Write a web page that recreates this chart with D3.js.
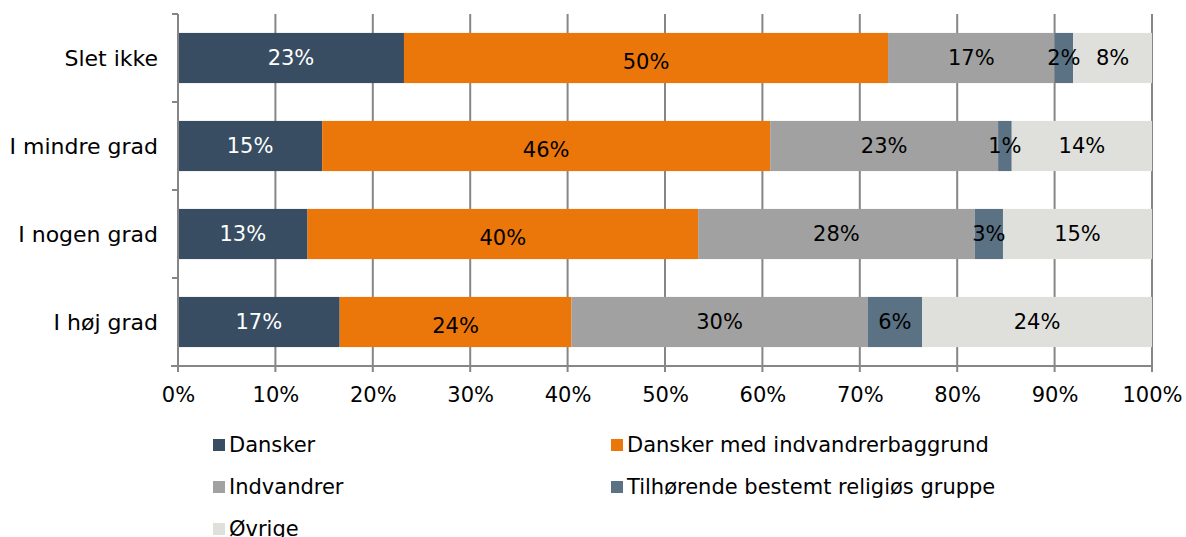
<!DOCTYPE html>
<html>
<head>
<meta charset="utf-8">
<script src="https://cdn.jsdelivr.net/npm/d3@7"></script>
<style>
  body { margin: 0; background: #fff; }
  .axis text { font-family: "DejaVu Sans", Verdana, sans-serif; font-size: 21px; fill: #000; }
  .legend text { font-family: "DejaVu Sans", Verdana, sans-serif; font-size: 21px; fill: #000; }
</style>
</head>
<body>
<div id="chart"></div>
<script>
// categories, top to bottom
var categories = ["Slet ikke", "I mindre grad", "I nogen grad", "I høj grad"];
var seriesNames = ["Dansker", "Dansker med indvandrerbaggrund", "Indvandrer",
                   "Tilhørende bestemt religiøs gruppe", "Øvrige"];
// shares in percent, one array per series (same order as categories)
var dansker    = [23.2, 14.8, 13.3, 16.6];
var danskerMed = [49.7, 46.0, 40.1, 23.8];
var indvandrer = [17.1, 23.4, 28.4, 30.4];
var religioes  = [1.9, 1.4, 2.9, 5.6];
var oevrige    = [8.1, 14.4, 15.3, 23.6];
var xTicks = [0, 10, 20, 30, 40, 50, 60, 70, 80, 90, 100];

var colors = ["#384d62", "#eb760a", "#a1a1a1", "#5b7285", "#dfdfdb"];
var labelColors = ["#fff", "#000", "#000", "#000", "#000"];

var w = 1186, h = 537;
var margin = {top: 14, right: 34, bottom: 171, left: 178};
var width = w - margin.left - margin.right;
var height = h - margin.top - margin.bottom;

var xScale = d3.scaleLinear().domain([0, 100]).range([0, width]);
var yScale = d3.scaleBand().domain(categories).range([0, height]).paddingInner(0.43).paddingOuter(0.215);

var svg = d3.select("#chart").append("svg")
    .attr("width", w).attr("height", h);
var g = svg.append("g")
    .attr("transform", "translate(" + margin.left + "," + margin.top + ")");

// gridlines (extend below axis as tick marks)
g.selectAll("line.grid")
    .data(xTicks)
    .enter().append("line")
    .attr("class", "grid")
    .attr("x1", function(d) { return xScale(d); })
    .attr("x2", function(d) { return xScale(d); })
    .attr("y1", 0).attr("y2", height + 6)
    .style("stroke", "#868686").style("stroke-width", 2);

// stack data
var table = categories.map(function(c, i) {
  return {cat: c, s0: dansker[i], s1: danskerMed[i], s2: indvandrer[i], s3: religioes[i], s4: oevrige[i]};
});
var stack = d3.stack().keys(["s0", "s1", "s2", "s3", "s4"]);
var layers = stack(table);

var layer = g.selectAll("g.layer")
    .data(layers)
    .enter().append("g")
    .attr("class", "layer")
    .style("fill", function(d, i) { return colors[i]; });

layer.selectAll("rect")
    .data(function(d) { return d; })
    .enter().append("rect")
    .attr("x", function(d) { return xScale(d[0]); })
    .attr("y", function(d) { return yScale(d.data.cat); })
    .attr("width", function(d) { return xScale(d[1]) - xScale(d[0]); })
    .attr("height", yScale.bandwidth());

// value labels
layers.forEach(function(l, i) {
  g.selectAll("text.lbl" + i)
      .data(l)
      .enter().append("text")
      .attr("class", "lbl" + i)
      .attr("x", function(d) { return xScale((d[0] + d[1]) / 2); })
      .attr("y", function(d) { return yScale(d.data.cat) + yScale.bandwidth() / 2; })
      .attr("dy", i === 1 ? "0.5em" : "0.35em")
      .attr("text-anchor", "middle")
      .style("font-family", "'DejaVu Sans', Verdana, sans-serif")
      .style("font-size", "21px")
      .style("fill", labelColors[i])
      .text(function(d) { return Math.round(d[1] - d[0]) + "%"; });
});

// y axis
var yAxis = g.append("g").attr("class", "axis");
yAxis.append("line")
    .attr("x1", 0).attr("x2", 0).attr("y1", 0).attr("y2", height)
    .style("stroke", "#868686").style("stroke-width", 2);
yAxis.selectAll("line.ytick")
    .data(d3.range(categories.length + 1))
    .enter().append("line")
    .attr("x1", -6).attr("x2", 0)
    .attr("y1", function(d) { return d * yScale.step(); })
    .attr("y2", function(d) { return d * yScale.step(); })
    .style("stroke", "#868686").style("stroke-width", 2);
yAxis.selectAll("text")
    .data(categories)
    .enter().append("text")
    .attr("x", -20)
    .attr("y", function(d) { return yScale(d) + yScale.bandwidth() / 2; })
    .attr("dy", "0.35em")
    .attr("text-anchor", "end")
    .style("font-size", "22px")
    .text(function(d) { return d; });

// x axis
var xAxis = d3.axisBottom(xScale).tickValues(xTicks).tickSize(0).tickPadding(21)
    .tickFormat(function(d) { return d + "%"; });
var xg = g.append("g").attr("class", "axis")
    .attr("transform", "translate(0," + height + ")")
    .call(xAxis);
xg.select(".domain").remove();
xg.append("line").attr("x1", -7).attr("x2", width).attr("y1", 0).attr("y2", 0)
    .style("stroke", "#868686").style("stroke-width", 2);

// legend
var legend = svg.append("g").attr("class", "legend");
seriesNames.forEach(function(name, i) {
  var lx = i % 2 === 0 ? 213 : 611;
  var ly = 445 + Math.floor(i / 2) * 42;
  legend.append("rect")
      .attr("x", lx).attr("y", ly - 6).attr("width", 12).attr("height", 12)
      .style("fill", colors[i]);
  legend.append("text")
      .attr("x", lx + 16).attr("y", ly).attr("dy", "0.35em")
      .text(name);
});
</script>
</body>
</html>
